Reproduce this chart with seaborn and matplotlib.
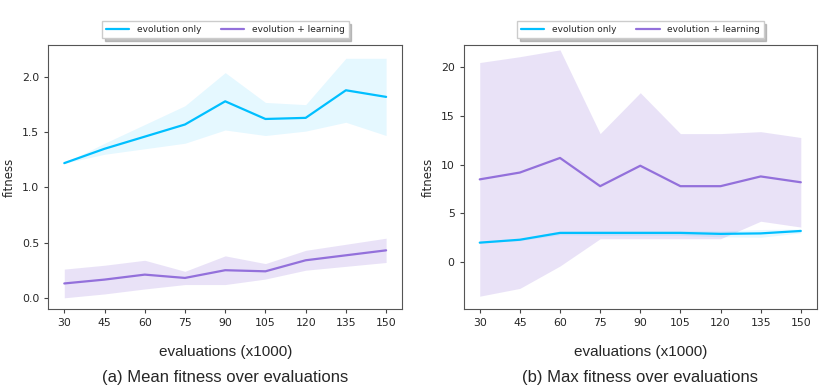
import numpy as np
import pandas as pd
import matplotlib
matplotlib.use("Agg")
import matplotlib.pyplot as plt
import seaborn as sns

# data (mean and std per evaluation step)
evals = [30, 45, 60, 75, 90, 105, 120, 135, 150]
series = ["evolution only", "evolution + learning"]

mean_evo = [1.22, 1.35, 1.46, 1.57, 1.78, 1.62, 1.63, 1.88, 1.82]
mean_evo_std = [0.0, 0.05, 0.11, 0.17, 0.26, 0.15, 0.12, 0.29, 0.35]
mean_learn = [0.13, 0.165, 0.21, 0.18, 0.25, 0.24, 0.34, 0.385, 0.43]
mean_learn_std = [0.13, 0.13, 0.13, 0.06, 0.13, 0.07, 0.09, 0.10, 0.11]

max_evo = [2.0, 2.3, 3.0, 3.0, 3.0, 3.0, 2.9, 2.95, 3.2]
max_evo_std = [0.0, 0.1, 0.2, 0.25, 0.25, 0.25, 0.3, 0.4, 0.2]
max_learn = [8.5, 9.2, 10.7, 7.8, 9.9, 7.8, 7.8, 8.8, 8.2]
max_learn_std = [12.0, 11.9, 11.1, 5.4, 7.5, 5.4, 5.4, 4.6, 4.6]

colors = {"evolution only": "#00bfff", "evolution + learning": "#9370db"}
band_alpha = {"evolution only": 0.1, "evolution + learning": 0.2}

captions = ["(a) Mean fitness over evaluations", "(b) Max fitness over evaluations"]

sns.set_style("ticks")
plt.rcParams["font.family"] = ["DejaVu Sans"]

fig = plt.figure(figsize=(8.31, 3.88), dpi=100)
ax1 = fig.add_axes([0.058, 0.204, 0.426, 0.680])
ax2 = fig.add_axes([0.558, 0.204, 0.425, 0.680])

panels = [
    (ax1, mean_evo, mean_evo_std, mean_learn, mean_learn_std),
    (ax2, max_evo, max_evo_std, max_learn, max_learn_std),
]

for i, (ax, evo, evo_sd, learn, learn_sd) in enumerate(panels):
    df = pd.DataFrame({
        "evals": evals * 2,
        "fitness": evo + learn,
        "std": evo_sd + learn_sd,
        "series": [series[0]] * len(evals) + [series[1]] * len(evals),
    })
    sns.lineplot(data=df, x="evals", y="fitness", hue="series", palette=colors,
                 linewidth=1.6, ax=ax)
    for name, grp in df.groupby("series"):
        ax.fill_between(grp["evals"], grp["fitness"] - grp["std"],
                        grp["fitness"] + grp["std"], color=colors[name],
                        alpha=band_alpha[name], linewidth=0)
    ax.set_xticks(evals)
    ax.tick_params(labelsize=7.8, length=3, color="#444444")
    for s in ax.spines.values():
        s.set_color("#555555")
    ax.set_ylabel("fitness", fontsize=8.5)
    ax.set_xlabel("evaluations (x1000)", fontsize=11, family="Liberation Sans",
                  labelpad=12)
    leg = ax.legend(loc="lower center", bbox_to_anchor=(0.5, 1.01), ncol=2,
                    fontsize=6.5, shadow={"color": "#999999", "alpha": 0.6},
                    fancybox=False, frameon=True, edgecolor="#cccccc",
                    borderpad=0.45, handlelength=2.6, columnspacing=2.2)
    ax.text(0.5, -0.26, captions[i], transform=ax.transAxes, ha="center",
            va="center", fontsize=12, family="Liberation Sans")

ax1.set_ylim(-0.1, 2.29)
ax1.set_yticks([0.0, 0.5, 1.0, 1.5, 2.0])
ax2.set_ylim(-4.8, 22.3)
ax2.set_yticks([0, 5, 10, 15, 20])

fig.savefig("out.png", dpi=100)
